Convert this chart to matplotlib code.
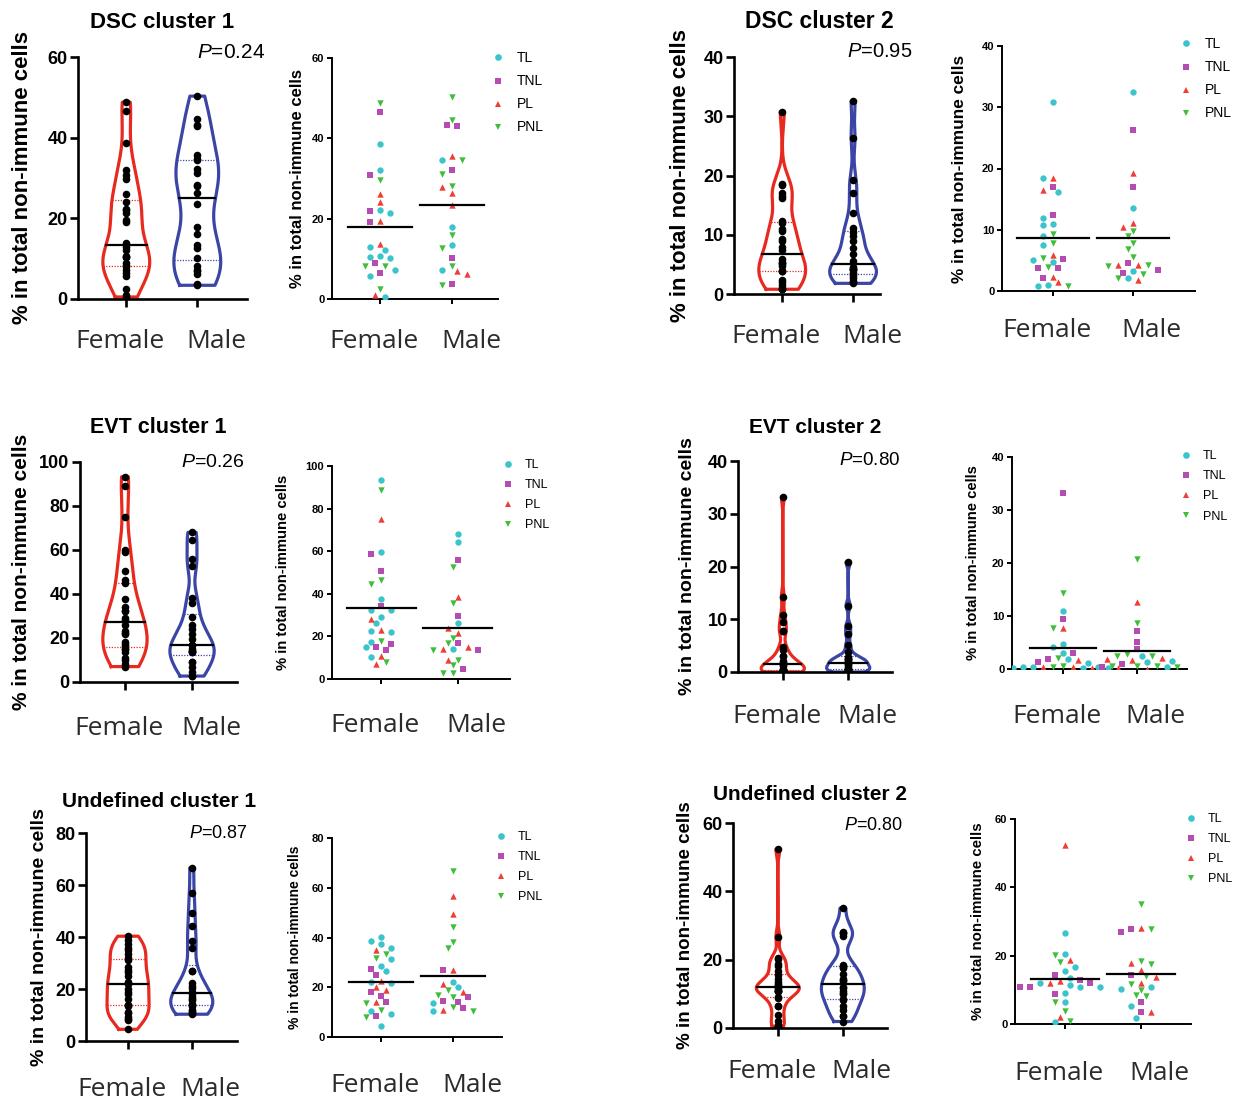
import numpy as np
import matplotlib
matplotlib.use("Agg")
import matplotlib.pyplot as plt
from matplotlib.lines import Line2D

plt.rcParams["font.family"] = ["Liberation Sans", "DejaVu Sans"]
plt.rcParams["mathtext.fontset"] = "custom"
plt.rcParams["mathtext.it"] = "Liberation Sans:italic"
plt.rcParams["mathtext.rm"] = "Liberation Sans"

W, H = 1242, 1100

# ---- data (% in total non-immune cells) ----
titles = ["DSC cluster 1", "DSC cluster 2", "EVT cluster 1",
          "EVT cluster 2", "Undefined cluster 1", "Undefined cluster 2"]
p_values = ["0.24", "0.95", "0.26", "0.80", "0.87", "0.80"]
y_max = [60, 40, 100, 40, 80, 60]
y_step = [20, 10, 20, 10, 20, 20]
sexes = ["Female", "Male"]
cohorts = ["TL", "TNL", "PL", "PNL"]

# DSC cluster 1
dsc1_f_tl = [38.7, 32.0, 21.4, 22.2, 12.1, 12.9, 10.3, 10.6, 10.5, 7.3, 5.8, 0.5]
dsc1_f_tnl = [46.5, 30.8, 22.0, 19.1, 9.0, 6.5]
dsc1_f_pl = [26.1, 24.1, 19.5, 13.8, 1.0]
dsc1_f_pnl = [48.8, 29.7, 8.1, 8.1, 2.5]
dsc1_m_tl = [34.7, 17.9, 13.4, 7.3]
dsc1_m_tnl = [43.0, 43.2, 32.2, 10.2, 3.8]
dsc1_m_pl = [35.7, 27.9, 26.4, 23.5, 6.9, 6.1]
dsc1_m_pnl = [50.3, 44.6, 34.5, 31.2, 28.2, 16.0, 12.7, 8.3, 3.4]

# DSC cluster 2
dsc2_f_tl = [30.8, 18.4, 16.2, 12.0, 10.7, 11.0, 8.9, 7.5, 4.7, 5.1, 0.8, 1.0]
dsc2_f_tnl = [17.0, 12.4, 5.2, 3.8, 3.8, 2.1]
dsc2_f_pl = [18.5, 16.5, 5.9, 2.3, 1.5]
dsc2_f_pnl = [9.3, 7.9, 5.4, 3.9, 0.8]
dsc2_m_tl = [32.5, 13.6, 3.3, 2.2]
dsc2_m_tnl = [26.3, 17.0, 4.6, 3.5, 3.0]
dsc2_m_pl = [19.2, 11.1, 10.5, 4.2, 4.2, 1.8]
dsc2_m_pnl = [9.8, 8.9, 7.8, 6.8, 5.6, 4.2, 4.1, 2.7, 2.1]

# EVT cluster 1
evt1_f_tl = [93.3, 59.8, 37.7, 32.3, 32.3, 28.9, 26.1, 21.9, 22.5, 17.5, 14.8, 10.2]
evt1_f_tnl = [58.9, 50.6, 34.2, 16.4, 15.2, 13.6]
evt1_f_pl = [75.0, 28.4, 23.0, 10.9, 7.0]
evt1_f_pnl = [88.9, 44.8, 46.4, 18.0, 8.1]
evt1_m_tl = [68.0, 64.4, 26.1, 14.1]
evt1_m_tnl = [55.8, 29.5, 17.0, 13.6, 4.7]
evt1_m_pl = [38.3, 24.1, 21.7, 15.2, 13.9, 8.9]
evt1_m_pnl = [52.7, 35.8, 19.4, 13.6, 17.0, 8.9, 6.6, 2.7, 2.7]

# EVT cluster 2
evt2_f_tl = [10.9, 4.8, 4.2, 3.1, 1.8, 1.2, 0.1, 0.3, 0.3, 0.25, 0.25, 0.3]
evt2_f_tnl = [33.2, 9.4, 3.0, 1.8, 1.4, 0.0]
evt2_f_pl = [7.8, 1.7, 0.3, 0.3, 0.1]
evt2_f_pnl = [14.3, 7.8, 2.0, 0.6, 0.4]
evt2_m_tl = [2.4, 1.5, 1.4, 0.4]
evt2_m_tnl = [7.2, 5.1, 3.7, 0.9, 0.3]
evt2_m_pl = [12.6, 1.9, 1.7, 2.0, 0.1, 0.0]
evt2_m_pnl = [20.8, 8.7, 2.4, 2.8, 2.4, 0.6, 0.6, 0.6, 0.3]

# Undefined cluster 1
und1_f_tl = [40.3, 38.7, 37.3, 35.9, 31.3, 28.6, 26.6, 21.9, 22.3, 10.6, 9.2, 4.5]
und1_f_tnl = [27.2, 25.0, 17.9, 16.3, 13.9, 8.3]
und1_f_pl = [35.0, 22.7, 19.0, 20.0, 13.9]
und1_f_pnl = [33.4, 31.9, 13.6, 11.0, 8.0]
und1_m_tl = [22.3, 20.3, 13.6, 10.6]
und1_m_tnl = [27.0, 15.9, 14.3, 13.9, 11.6]
und1_m_pl = [56.8, 49.4, 27.0, 21.2, 17.9, 10.7]
und1_m_pnl = [66.6, 44.3, 38.3, 35.9, 18.7, 17.0, 16.0, 11.9, 10.3]

# Undefined cluster 2
und2_f_tl = [26.6, 20.4, 16.8, 15.5, 13.6, 12.1, 10.7, 11.4, 10.7, 9.2, 6.4, 0.5]
und2_f_tnl = [14.2, 12.9, 11.9, 10.7, 10.9, 8.8]
und2_f_pl = [52.3, 18.8, 12.1, 12.7, 2.0]
und2_f_pnl = [20.2, 18.1, 6.3, 3.8, 1.0]
und2_m_tl = [10.7, 10.3, 5.4, 1.9]
und2_m_tnl = [26.9, 27.8, 14.4, 6.5, 3.6]
und2_m_pl = [28.0, 18.0, 15.8, 13.9, 12.1, 3.6]
und2_m_pnl = [35.1, 27.8, 18.5, 17.6, 14.1, 11.7, 10.0, 8.5, 8.2]

clusters = [
    [[dsc1_f_tl, dsc1_f_tnl, dsc1_f_pl, dsc1_f_pnl], [dsc1_m_tl, dsc1_m_tnl, dsc1_m_pl, dsc1_m_pnl]],
    [[dsc2_f_tl, dsc2_f_tnl, dsc2_f_pl, dsc2_f_pnl], [dsc2_m_tl, dsc2_m_tnl, dsc2_m_pl, dsc2_m_pnl]],
    [[evt1_f_tl, evt1_f_tnl, evt1_f_pl, evt1_f_pnl], [evt1_m_tl, evt1_m_tnl, evt1_m_pl, evt1_m_pnl]],
    [[evt2_f_tl, evt2_f_tnl, evt2_f_pl, evt2_f_pnl], [evt2_m_tl, evt2_m_tnl, evt2_m_pl, evt2_m_pnl]],
    [[und1_f_tl, und1_f_tnl, und1_f_pl, und1_f_pnl], [und1_m_tl, und1_m_tnl, und1_m_pl, und1_m_pnl]],
    [[und2_f_tl, und2_f_tnl, und2_f_pl, und2_f_pnl], [und2_m_tl, und2_m_tnl, und2_m_pl, und2_m_pnl]],
]

# ---- styling ----
violin_colors = ["#e8291f", "#3a45a6"]
cohort_colors = ["#3cc4cc", "#b54cb2", "#ef3e36", "#3fbe3a"]
cohort_markers = ["o", "s", "^", "v"]
label_color = "#2b2b2b"

# layout in pixels: violin box (L, R, T, B), scatter box, text anchors
layout = [
    dict(v=(78, 247, 57, 299), vx=(0.32, 2.70), s=(332, 498, 58, 299), sx=(0.33, 2.64),
         title=(162, 28, 16), p=(265, 58, 15), vyl=(23, 16), syl=(297, 12),
         vdy=49, sdy=49, leg=(498, 59, 10)),
    dict(v=(734, 880, 57, 294), vx=(0.32, 2.38), s=(1002, 1195, 46, 291), sx=(0.36, 2.78),
         title=(819, 28, 16.5), p=(912, 57, 14.5), vyl=(681, 16), syl=(959, 12.4),
         vdy=49, sdy=46, leg=(1186, 45, 10)),
    dict(v=(80, 237, 462, 682), vx=(0.33, 2.67), s=(332, 510, 466, 679), sx=(0.36, 2.68),
         title=(158, 433, 15.5), p=(245, 467, 14), vyl=(22, 15), syl=(283, 10.7),
         vdy=53, sdy=53, leg=(508, 466, 9)),
    dict(v=(738, 892, 461, 672), vx=(0.315, 2.67), s=(1012, 1187, 457, 669), sx=(0.31, 2.68),
         title=(815, 433, 15), p=(900, 465, 13.5), vyl=(688, 14), syl=(973, 10.6),
         vdy=51, sdy=54, leg=(1186, 457, 9)),
    dict(v=(86, 237, 833, 1041), vx=(0.34, 2.71), s=(332, 502, 838, 1037), sx=(0.32, 2.68),
         title=(159, 807, 15), p=(248, 838, 13), vyl=(40, 14), syl=(295, 10),
         vdy=55, sdy=55, leg=(501, 838, 9)),
    dict(v=(733, 887, 823, 1028), vx=(0.31, 2.68), s=(1015, 1191, 819, 1024), sx=(0.34, 2.66),
         title=(810, 800, 15), p=(903, 830, 13), vyl=(685, 13.5), syl=(978, 10.8),
         vdy=50, sdy=56, leg=(1191, 820, 9)),
]


def make_axes(fig, box):
    L, R, T, B = box
    return fig.add_axes([L / W, 1 - B / H, (R - L) / W, (B - T) / H])


def style_axes(ax, ymax, step, xlim, lw, ticklen, tickfs):
    ax.set_ylim(0, ymax)
    ax.set_xlim(*xlim)
    ax.set_yticks(np.arange(0, ymax + 1, step))
    ax.set_xticks([1, 2])
    ax.set_xticklabels([])
    for side in ["top", "right"]:
        ax.spines[side].set_visible(False)
    for side in ["left", "bottom"]:
        ax.spines[side].set_linewidth(lw)
    ax.tick_params(axis="both", width=lw, length=ticklen, labelsize=tickfs, pad=2)
    for lab in ax.get_yticklabels():
        lab.set_fontweight("bold")
    ax.patch.set_alpha(0)


def sex_labels(ax, dy_px):
    for i, (name, dx) in enumerate(zip(sexes, [-6, 19])):
        ax.annotate(name, xy=(i + 1, 0), xycoords=("data", "axes fraction"),
                    xytext=(dx * 0.72, -dy_px * 0.72), textcoords="offset points",
                    ha="center", va="baseline", fontsize=19, family="Open Sans",
                    color=label_color)


def swarm(vals, ymax, h_px, px_per_unit, diam=7.0, step=5.0):
    # simple beeswarm: nudge points sideways until they stop overlapping
    vals = np.asarray(vals, float)
    out = np.zeros(len(vals))
    placed = []
    cands = [0]
    for m in range(1, 30):
        cands += [-m, m]
    for i in np.argsort(-vals):
        y = vals[i] / ymax * h_px
        for c in cands:
            x = c * step
            if all((x - px) ** 2 + (y - py) ** 2 >= diam ** 2 for px, py in placed):
                break
        placed.append((x, y))
        out[i] = x / px_per_unit
    return out


def draw_violin(ax, vals, x0, color):
    v = np.sort(np.asarray(vals, float))
    lo, hi = v.min(), v.max()
    iqr = np.subtract(*np.percentile(v, [75, 25]))
    bw = 0.9 * min(v.std(ddof=1), iqr / 1.34) * len(v) ** -0.2 * 0.85
    ys = np.linspace(lo, hi, 300)
    dens = np.exp(-0.5 * ((ys[:, None] - v[None, :]) / bw) ** 2).sum(1)
    half = dens / dens.max() * 0.33
    xs = np.concatenate([x0 - half, (x0 + half)[::-1], [x0 - half[0]]])
    yy = np.concatenate([ys, ys[::-1], [ys[0]]])
    ax.plot(xs, yy, color=color, lw=2.3, solid_joinstyle="round", zorder=2)
    q1, med, q3 = np.percentile(v, [25, 50, 75])
    for q in (q1, q3):
        w = np.interp(q, ys, half)
        ax.plot([x0 - w, x0 + w], [q, q], color=color, lw=0.9, ls=(0, (1, 1.2)), zorder=2)
    w = np.interp(med, ys, half)
    ax.plot([x0 - w, x0 + w], [med, med], color="black", lw=1.6, zorder=4)
    ax.scatter(np.full(len(v), x0), v, s=30, color="black", zorder=3, linewidths=0)


fig = plt.figure(figsize=(W / 100, H / 100), dpi=100)

for k, lay in enumerate(layout):
    ymax, step = y_max[k], y_step[k]
    data = clusters[k]

    # violin panel
    ax = make_axes(fig, lay["v"])
    style_axes(ax, ymax, step, lay["vx"], 1.9, 5.5, 13)
    for j in range(2):
        vals = np.concatenate([np.asarray(c, float) for c in data[j]])
        draw_violin(ax, vals, j + 1, violin_colors[j])
    sex_labels(ax, lay["vdy"])
    L, R, T, B = lay["v"]
    fig.text(lay["vyl"][0] / W, 1 - (T + B) / 2 / H, "% in total non-immune cells",
             rotation=90, ha="center", va="center", fontsize=lay["vyl"][1], fontweight="bold")
    tx, ty, tfs = lay["title"]
    fig.text(tx / W, 1 - ty / H, titles[k], ha="center", va="baseline",
             fontsize=tfs, fontweight="bold")
    px, py, pfs = lay["p"]
    fig.text(px / W, 1 - py / H, r"$P$=" + p_values[k], ha="right", va="baseline", fontsize=pfs)

    # cohort scatter panel
    ax = make_axes(fig, lay["s"])
    style_axes(ax, ymax, step, lay["sx"], 1.4, 3.5, 8)
    L, R, T, B = lay["s"]
    px_per_unit = (R - L) / (lay["sx"][1] - lay["sx"][0])
    for j in range(2):
        vals = np.concatenate([np.asarray(c, float) for c in data[j]])
        grp = np.concatenate([[g] * len(c) for g, c in enumerate(data[j])])
        offs = swarm(vals, ymax, B - T, px_per_unit)
        for g in range(4):
            sel = grp == g
            ax.scatter(j + 1 + offs[sel], vals[sel], marker=cohort_markers[g],
                       color=cohort_colors[g], s=21, linewidths=0, zorder=3)
        m = vals.mean()
        ax.plot([j + 1 - 0.45, j + 1 + 0.45], [m, m], color="black", lw=1.6, zorder=4)
    sex_labels(ax, lay["sdy"])
    fig.text(lay["syl"][0] / W, 1 - (T + B) / 2 / H, "% in total non-immune cells",
             rotation=90, ha="center", va="center", fontsize=lay["syl"][1], fontweight="bold")
    handles = [Line2D([], [], ls="none", marker=cohort_markers[g], color=cohort_colors[g],
                      markersize=4.8, markeredgewidth=0) for g in range(4)]
    lx, ly, lfs = lay["leg"]
    hl = lfs / 72 * 100
    ax.legend(handles, cohorts, loc="upper left", frameon=False, fontsize=lfs,
              handlelength=1.0, handletextpad=0.85, labelspacing=0.65,
              borderpad=0, borderaxespad=0,
              bbox_to_anchor=((lx - 0.5 * hl) / W, 1 - (ly - 0.55 * hl) / H),
              bbox_transform=fig.transFigure)

fig.savefig("out.png", dpi=100)
